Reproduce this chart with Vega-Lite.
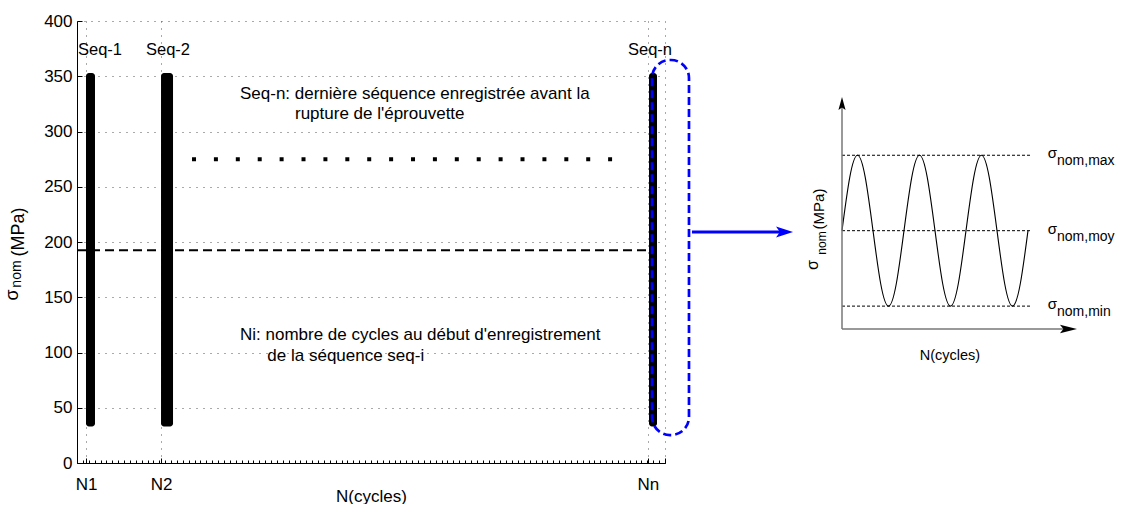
{
  "$schema": "https://vega.github.io/schema/vega-lite/v6.json",
  "autosize": {"type": "pad"},
  "padding": {"left": 4, "top": 12, "right": 0, "bottom": 0},
  "background": "white",
  "bounds": "flush",
  "spacing": 22,
  "config": {
    "font": "Liberation Sans",
    "view": {"stroke": null},
    "axis": {
      "labelFont": "Liberation Sans", "labelFontSize": 17, "labelColor": "black",
      "titleFont": "Liberation Sans", "titleFontSize": 17, "titleFontWeight": "normal", "titleColor": "black",
      "domainColor": "black", "domainWidth": 1, "tickColor": "black", "tickWidth": 1,
      "gridColor": "#555", "gridDash": [1, 6], "gridWidth": 1,
      "labelFlush": false, "labelOverlap": false
    },
    "text": {"font": "Liberation Sans", "color": "black"}
  },
  "hconcat": [
    {
      "width": 588, "height": 442,
      "resolve": {"axis": {"x": "independent"}},
      "layer": [
        {
          "data": {"values": [
            {"seq": "Seq-1", "n_start": 1.53, "n_end": 3.06, "s_min": 33, "s_max": 353},
            {"seq": "Seq-2", "n_start": 14.29, "n_end": 16.33, "s_min": 33, "s_max": 353},
            {"seq": "Seq-n", "n_start": 97.28, "n_end": 98.64, "s_min": 33, "s_max": 353}
          ]},
          "mark": {"type": "rect", "color": "black", "cornerRadius": 3},
          "encoding": {
            "x": {"field": "n_start", "type": "quantitative",
              "scale": {"domain": [0, 100], "nice": false, "zero": false},
              "axis": {"values": [1.53, 14.29, 97.1, 100],
                "labelExpr": "datum.value < 5 ? 'N1' : datum.value < 50 ? 'N2' : datum.value < 99 ? 'Nn' : ''",
                "title": "N(cycles)", "grid": true, "tickSize": -5, "labelPadding": 18, "titlePadding": -4}},
            "x2": {"field": "n_end"},
            "y": {"field": "s_min", "type": "quantitative",
              "scale": {"domain": [0, 400], "nice": false, "zero": false},
              "axis": {"values": [0, 50, 100, 150, 200, 250, 300, 350, 400], "title": null, "grid": true, "tickSize": -5, "labelPadding": 10}},
            "y2": {"field": "s_max"}
          }
        },
        {
          "data": {"values": [{"n_from": 0, "n_to": 98.3, "s_moy": 192.5}]},
          "mark": {"type": "rule", "color": "black", "strokeWidth": 2, "strokeDash": [9, 5]},
          "encoding": {
            "x": {"field": "n_from", "type": "quantitative",
              "axis": {"orient": "bottom", "tickCount": 100, "labels": false, "domain": false, "grid": false, "tickSize": -3, "title": null}},
            "x2": {"field": "n_to"},
            "y": {"field": "s_moy", "type": "quantitative"}
          }
        },
        {
          "data": {"values": [{"n_from": 19.56, "n_to": 91.0, "s": 275}]},
          "mark": {"type": "rule", "color": "black", "strokeWidth": 4, "strokeDash": [4, 17.9], "strokeCap": "butt"},
          "encoding": {
            "x": {"field": "n_from", "type": "quantitative", "axis": null},
            "x2": {"field": "n_to"},
            "y": {"field": "s", "type": "quantitative"}
          }
        },
        {
          "data": {"values": [
            {"label": "Seq-1", "n": 3.91, "s": 369.2},
            {"label": "Seq-2", "n": 15.48, "s": 369.2},
            {"label": "Seq-n", "n": 97.45, "s": 369.2}
          ]},
          "mark": {"type": "text", "fontSize": 16.5, "align": "center", "baseline": "alphabetic"},
          "encoding": {
            "x": {"field": "n", "type": "quantitative", "axis": null},
            "y": {"field": "s", "type": "quantitative"},
            "text": {"field": "label"}
          }
        },
        {
          "data": {"values": [
            {"note": "Seq-n: dernière séquence enregistrée avant la", "n": 27.72, "s": 329.4},
            {"note": "rupture de l'éprouvette", "n": 37.07, "s": 311.3},
            {"note": "Ni: nombre de cycles au début d'enregistrement", "n": 27.72, "s": 111.3},
            {"note": "de la séquence seq-i", "n": 32.37, "s": 92.6}
          ]},
          "mark": {"type": "text", "fontSize": 17, "align": "left", "baseline": "alphabetic"},
          "encoding": {
            "x": {"field": "n", "type": "quantitative", "axis": null},
            "y": {"field": "s", "type": "quantitative"},
            "text": {"field": "note"}
          }
        },
        {
          "data": {"values": [{"n_from": 97.79, "n_to": 104.08, "s_from": 25.3, "s_to": 364.7}]},
          "mark": {"type": "rect", "fill": null, "fillOpacity": 0, "stroke": "#0000ff", "strokeWidth": 2.7, "strokeDash": [8, 4], "cornerRadius": 18},
          "encoding": {
            "x": {"field": "n_from", "type": "quantitative", "axis": null},
            "x2": {"field": "n_to"},
            "y": {"field": "s_from", "type": "quantitative"},
            "y2": {"field": "s_to"}
          }
        },
        {
          "data": {"values": [
            {"t": "σ", "n": -10.03, "s": 152.0},
            {"t": "(MPa)", "n": -9.01, "s": 209.0}
          ]},
          "mark": {"type": "text", "fontSize": 18, "angle": 270, "align": "center", "baseline": "alphabetic"},
          "encoding": {
            "x": {"field": "n", "type": "quantitative", "axis": null},
            "y": {"field": "s", "type": "quantitative"},
            "text": {"field": "t"}
          }
        },
        {
          "data": {"values": [{"t": "nom", "n": -9.52, "s": 171.0}]},
          "mark": {"type": "text", "fontSize": 14, "angle": 270, "align": "center", "baseline": "alphabetic"},
          "encoding": {
            "x": {"field": "n", "type": "quantitative", "axis": null},
            "y": {"field": "s", "type": "quantitative"},
            "text": {"field": "t"}
          }
        }
      ]
    },
    {
      "width": 434, "height": 442,
      "layer": [
        {
          "data": {"values": [
            {"level": "max", "t_from": 0, "t_to": 3.06, "v": 1},
            {"level": "moy", "t_from": 0, "t_to": 3.06, "v": 0},
            {"level": "min", "t_from": 0, "t_to": 3.06, "v": -1}
          ]},
          "mark": {"type": "rule", "color": "black", "strokeWidth": 1, "strokeDash": [3, 2]},
          "encoding": {
            "x": {"field": "t_from", "type": "quantitative", "scale": {"domain": [-2.5, 4.5], "nice": false, "zero": false}, "axis": null},
            "x2": {"field": "t_to"},
            "y": {"field": "v", "type": "quantitative", "scale": {"domain": [-3.08, 2.78], "nice": false, "zero": false}, "axis": null}
          }
        },
        {
          "data": {"values": [
            {"t": 0, "v": 0}, {"t": 0.125, "v": 0.7071}, {"t": 0.25, "v": 1}, {"t": 0.375, "v": 0.7071},
            {"t": 0.5, "v": 0}, {"t": 0.625, "v": -0.7071}, {"t": 0.75, "v": -1}, {"t": 0.875, "v": -0.7071},
            {"t": 1, "v": 0}, {"t": 1.125, "v": 0.7071}, {"t": 1.25, "v": 1}, {"t": 1.375, "v": 0.7071},
            {"t": 1.5, "v": 0}, {"t": 1.625, "v": -0.7071}, {"t": 1.75, "v": -1}, {"t": 1.875, "v": -0.7071},
            {"t": 2, "v": 0}, {"t": 2.125, "v": 0.7071}, {"t": 2.25, "v": 1}, {"t": 2.375, "v": 0.7071},
            {"t": 2.5, "v": 0}, {"t": 2.625, "v": -0.7071}, {"t": 2.75, "v": -1}, {"t": 2.875, "v": -0.7071},
            {"t": 3, "v": 0}
          ]},
          "mark": {"type": "line", "color": "black", "strokeWidth": 1.1, "interpolate": "natural"},
          "encoding": {
            "x": {"field": "t", "type": "quantitative", "axis": null},
            "y": {"field": "v", "type": "quantitative", "axis": null}
          }
        },
        {
          "data": {"values": [
            {"axe": "y", "x1": 0, "x2": 0, "y1": -1.303, "y2": 1.70},
            {"axe": "x", "x1": 0, "x2": 3.72, "y1": -1.303, "y2": -1.303}
          ]},
          "mark": {"type": "rule", "color": "#777", "strokeWidth": 1.5},
          "encoding": {
            "x": {"field": "x1", "type": "quantitative", "axis": null},
            "x2": {"field": "x2"},
            "y": {"field": "y1", "type": "quantitative", "axis": null},
            "y2": {"field": "y2"}
          }
        },
        {
          "data": {"values": [{"x": 0, "y": 1.772}]},
          "mark": {"type": "point", "filled": true, "color": "black", "opacity": 1, "size": 169, "shape": "M0,0 L0.55,2 L0,1.6 L-0.55,2 Z"},
          "encoding": {
            "x": {"field": "x", "type": "quantitative", "axis": null},
            "y": {"field": "y", "type": "quantitative", "axis": null}
          }
        },
        {
          "data": {"values": [{"x": 3.79, "y": -1.303}]},
          "mark": {"type": "point", "filled": true, "color": "black", "opacity": 1, "size": 289, "shape": "M0,0 L-2,-0.5 L-1.6,0 L-2,0.5 Z"},
          "encoding": {
            "x": {"field": "x", "type": "quantitative", "axis": null},
            "y": {"field": "y", "type": "quantitative", "axis": null}
          }
        },
        {
          "data": {"values": [{"x1": -2.42, "x2": -0.95, "y": -0.017}]},
          "mark": {"type": "rule", "color": "#0000ff", "strokeWidth": 3},
          "encoding": {
            "x": {"field": "x1", "type": "quantitative", "axis": null},
            "x2": {"field": "x2"},
            "y": {"field": "y", "type": "quantitative", "axis": null}
          }
        },
        {
          "data": {"values": [{"x": -0.79, "y": -0.017}]},
          "mark": {"type": "point", "filled": true, "color": "#0000ff", "opacity": 1, "size": 289, "shape": "M0,0 L-2,-0.65 L-1.55,0 L-2,0.65 Z"},
          "encoding": {
            "x": {"field": "x", "type": "quantitative", "axis": null},
            "y": {"field": "y", "type": "quantitative", "axis": null}
          }
        },
        {
          "data": {"values": [
            {"t": "σ", "x": 3.32, "y": 0.96},
            {"t": "σ", "x": 3.32, "y": -0.04},
            {"t": "σ", "x": 3.32, "y": -1.04}
          ]},
          "mark": {"type": "text", "fontSize": 15, "align": "left", "baseline": "alphabetic"},
          "encoding": {
            "x": {"field": "x", "type": "quantitative", "axis": null},
            "y": {"field": "y", "type": "quantitative", "axis": null},
            "text": {"field": "t"}
          }
        },
        {
          "data": {"values": [
            {"t": "nom,max", "x": 3.468, "y": 0.867},
            {"t": "nom,moy", "x": 3.468, "y": -0.133},
            {"t": "nom,min", "x": 3.468, "y": -1.133}
          ]},
          "mark": {"type": "text", "fontSize": 14, "align": "left", "baseline": "alphabetic"},
          "encoding": {
            "x": {"field": "x", "type": "quantitative", "axis": null},
            "y": {"field": "y", "type": "quantitative", "axis": null},
            "text": {"field": "t"}
          }
        },
        {
          "data": {"values": [{"t": "σ", "x": -0.387, "y": -0.455}]},
          "mark": {"type": "text", "fontSize": 16, "angle": 270, "align": "center", "baseline": "alphabetic"},
          "encoding": {
            "x": {"field": "x", "type": "quantitative", "axis": null},
            "y": {"field": "y", "type": "quantitative", "axis": null},
            "text": {"field": "t"}
          }
        },
        {
          "data": {"values": [{"t": "nom", "x": -0.258, "y": -0.163}]},
          "mark": {"type": "text", "fontSize": 12, "angle": 270, "align": "center", "baseline": "alphabetic"},
          "encoding": {
            "x": {"field": "x", "type": "quantitative", "axis": null},
            "y": {"field": "y", "type": "quantitative", "axis": null},
            "text": {"field": "t"}
          }
        },
        {
          "data": {"values": [{"t": "(MPa)", "x": -0.29, "y": 0.288}]},
          "mark": {"type": "text", "fontSize": 15, "angle": 270, "align": "center", "baseline": "alphabetic"},
          "encoding": {
            "x": {"field": "x", "type": "quantitative", "axis": null},
            "y": {"field": "y", "type": "quantitative", "axis": null},
            "text": {"field": "t"}
          }
        },
        {
          "data": {"values": [{"t": "N(cycles)", "x": 1.74, "y": -1.714}]},
          "mark": {"type": "text", "fontSize": 14.5, "align": "center", "baseline": "alphabetic"},
          "encoding": {
            "x": {"field": "x", "type": "quantitative", "axis": null},
            "y": {"field": "y", "type": "quantitative", "axis": null},
            "text": {"field": "t"}
          }
        }
      ]
    }
  ]
}
